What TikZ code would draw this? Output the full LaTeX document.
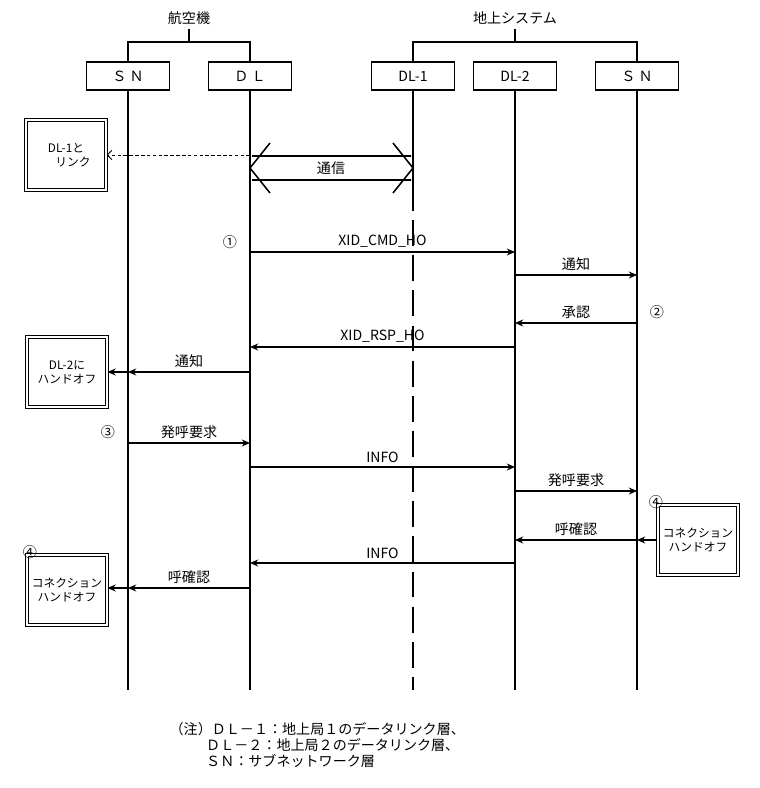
\documentclass[tikz,border=0pt]{standalone}
\usepackage{fontspec}
\setmainfont{Noto Sans CJK JP}
\usepackage{tikz}
\usetikzlibrary{positioning,arrows.meta}

\begin{document}
\begin{tikzpicture}[x=0.03cm,y=-0.03cm,line width=1.3pt,
    head/.style={draw,minimum width=2.5cm,minimum height=0.84cm,font=\large,inner sep=1pt},
    msg/.style={-{Stealth[length=7pt,width=6pt]}},
    lbl/.style={above,font=\large,inner sep=3pt},
    note/.style={draw,double,double distance=1.4pt,line width=0.9pt,align=center,font=\normalsize,minimum width=2.4cm,minimum height=2.1cm}]
    \useasboundingbox (0,0) rectangle (759,788);

    % lifeline heads
    \node[head] (sna) at (128,76) {Ｓ Ｎ};
    \node[head] (dla) at (250,76) {Ｄ Ｌ};
    \node[head] (dl1) at (413,76) {DL-1};
    \node[head] (dl2) at (515,76) {DL-2};
    \node[head] (sng) at (637,76) {Ｓ Ｎ};
    \node[font=\large] (air) at (189,18) {航空機};
    \node[font=\large] (gnd) at (515,18) {地上システム};
    \draw (sna.north) |- (189,42) -| (dla.north);
    \draw (189,42) -- (air.south);
    \draw (dl1.north) |- (637,42) -| (sng.north);
    \draw (515,42) -- (gnd.south);

    % lifelines
    \coordinate (snaE) at (128,690);
    \coordinate (dlaE) at (250,690);
    \coordinate (dl1M) at (413,185);
    \coordinate (dl1E) at (413,690);
    \coordinate (dl2E) at (515,690);
    \coordinate (sngE) at (637,690);
    \foreach \a/\b in {sna/snaE,dla/dlaE,dl2/dl2E,sng/sngE}
        \draw (\a) -- (\b);
    \draw (dl1) -- (dl1M);
    \draw[dash pattern=on 22pt off 8pt] (dl1M) -- (dl1E);

    % notes
    \node[note] (n1) at (66,155) {DL-1と\\\hspace*{1.2em}リンク};
    \node[note] (n2) at (67,372) {DL-2に\\ハンドオフ};
    \node[note] (n3) at (67,590) {コネクション\\ハンドオフ};
    \node[note] (n4) at (698,540) {コネクション\\ハンドオフ};
    \node[font=\large] at (30,552) {④};
    \node[font=\large] at (656,502) {④};

    % communication DL - DL-1
    \coordinate (ca) at (250,168);
    \coordinate (cb) at (413,168);
    \draw[line width=0.8pt,densely dashed,-{Straight Barb[length=4pt]}] (250,155) -- (n1.east |- 0,155);
    \draw (270,143) -- (ca) -- (270,193) (393,143) -- (cb) -- (393,193)
        (252,156) -- (411,156) (252,180) -- (411,180);
    \node[font=\large] (comm) at (331,168) {通信};

    % messages
    \node[font=\large] at (230,242) {①};
    \draw[msg] (250,252) -- node[lbl] {XID\_CMD\_HO} (515,252);
    \draw[msg] (515,275) -- node[lbl] {通知} (637,275);
    \draw[msg] (637,323) -- node[lbl] {承認} (515,323);
    \node[font=\large] at (657,312) {②};
    \draw[msg] (515,347) -- node[lbl] {XID\_RSP\_HO} (250,347);
    \draw[msg] (250,372) -- node[lbl] {通知} (128,372);
    \draw[msg] (128,372) -- (n2.east |- 0,372);
    \node[font=\large] at (108,432) {③};
    \draw[msg] (128,443) -- node[lbl] {発呼要求} (250,443);
    \draw[msg] (250,467) -- node[lbl] {INFO} (515,467);
    \draw[msg] (515,491) -- node[lbl] {発呼要求} (637,491);
    \draw[msg] (n4.west |- 0,540) -- (637,540);
    \draw[msg] (637,540) -- node[lbl] {呼確認} (515,540);
    \draw[msg] (515,563) -- node[lbl] {INFO} (250,563);
    \draw[msg] (250,588) -- node[lbl] {呼確認} (128,588);
    \draw[msg] (128,588) -- (n3.east |- 0,588);

    % legend
    \node[font=\large,anchor=west,align=left] (leg) at (165,745)
        {（注）ＤＬ－１：地上局１のデータリンク層、\\
         \hspace*{2.6em}ＤＬ－２：地上局２のデータリンク層、\\
         \hspace*{2.6em}ＳＮ：サブネットワーク層};
\end{tikzpicture}
\end{document}
